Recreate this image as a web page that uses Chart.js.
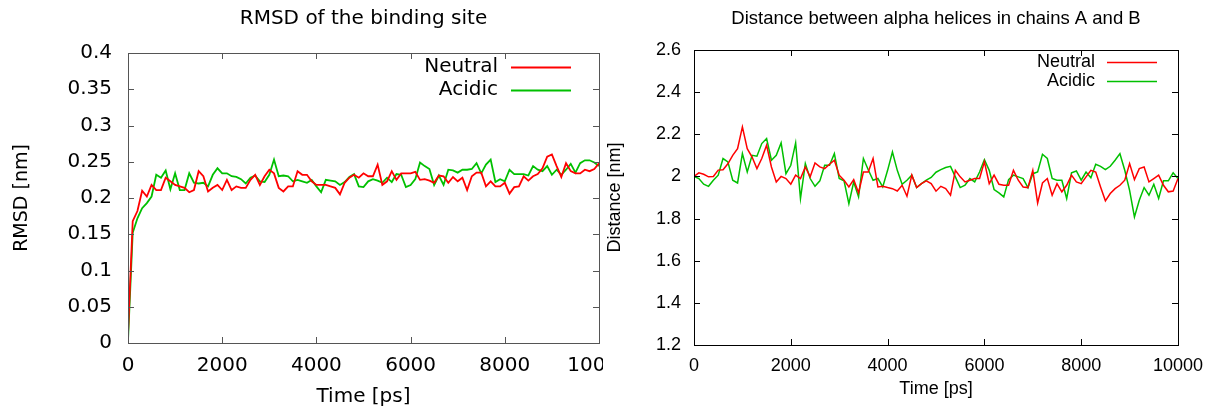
<!DOCTYPE html>
<html>
<head>
<meta charset="utf-8">
<script src="https://cdn.jsdelivr.net/npm/chart.js@4.4.1/dist/chart.umd.min.js"></script>
<style>
  body { margin: 0; width: 1212px; height: 410px; overflow: hidden; position: relative; background: #fff; }
  canvas { display: block; }
  #leftWrap { position: absolute; left: 0; top: 0; width: 603px; height: 410px; overflow: hidden; }
  #distChart { position: absolute; left: 596px; top: 0; }
</style>
</head>
<body>
<div id="leftWrap"><canvas id="rmsdChart" width="727" height="410"></canvas></div>
<canvas id="distChart" width="680" height="410"></canvas>
<script>
// time axis, ps
const times = [0, 100, 200, 300, 400, 500, 600, 700, 800, 900,
  1000, 1100, 1200, 1300, 1400, 1500, 1600, 1700, 1800, 1900,
  2000, 2100, 2200, 2300, 2400, 2500, 2600, 2700, 2800, 2900,
  3000, 3100, 3200, 3300, 3400, 3500, 3600, 3700, 3800, 3900,
  4000, 4100, 4200, 4300, 4400, 4500, 4600, 4700, 4800, 4900,
  5000, 5100, 5200, 5300, 5400, 5500, 5600, 5700, 5800, 5900,
  6000, 6100, 6200, 6300, 6400, 6500, 6600, 6700, 6800, 6900,
  7000, 7100, 7200, 7300, 7400, 7500, 7600, 7700, 7800, 7900,
  8000, 8100, 8200, 8300, 8400, 8500, 8600, 8700, 8800, 8900,
  9000, 9100, 9200, 9300, 9400, 9500, 9600, 9700, 9800, 9900, 10000];

// RMSD of the binding site [nm]
const rmsdNeutral = [0.012, 0.168, 0.182, 0.210, 0.202, 0.218, 0.211, 0.211, 0.228, 0.223,
  0.218, 0.216, 0.214, 0.208, 0.211, 0.237, 0.230, 0.209, 0.214, 0.218,
  0.211, 0.225, 0.211, 0.216, 0.214, 0.214, 0.225, 0.232, 0.218, 0.230,
  0.239, 0.234, 0.214, 0.209, 0.216, 0.216, 0.237, 0.232, 0.232, 0.223,
  0.218, 0.218, 0.218, 0.216, 0.214, 0.205, 0.221, 0.228, 0.232, 0.228,
  0.234, 0.230, 0.230, 0.246, 0.218, 0.223, 0.237, 0.225, 0.234, 0.234,
  0.234, 0.236, 0.225, 0.226, 0.224, 0.221, 0.231, 0.230, 0.221, 0.229,
  0.223, 0.228, 0.211, 0.230, 0.235, 0.235, 0.216, 0.223, 0.216, 0.216,
  0.221, 0.206, 0.215, 0.216, 0.230, 0.224, 0.230, 0.233, 0.241, 0.257,
  0.260, 0.244, 0.229, 0.248, 0.237, 0.234, 0.234, 0.239, 0.237, 0.240, 0.248];
const rmsdAcidic = [0.003, 0.152, 0.172, 0.186, 0.193, 0.202, 0.232, 0.228, 0.238, 0.212,
  0.234, 0.211, 0.211, 0.234, 0.221, 0.220, 0.221, 0.216, 0.232, 0.241,
  0.234, 0.234, 0.230, 0.229, 0.226, 0.220, 0.228, 0.231, 0.223, 0.222,
  0.232, 0.253, 0.230, 0.231, 0.230, 0.223, 0.225, 0.223, 0.221, 0.225,
  0.216, 0.208, 0.225, 0.224, 0.223, 0.218, 0.222, 0.229, 0.233, 0.216,
  0.215, 0.223, 0.226, 0.224, 0.221, 0.228, 0.222, 0.233, 0.232, 0.215,
  0.218, 0.226, 0.249, 0.244, 0.240, 0.218, 0.231, 0.218, 0.239, 0.238,
  0.235, 0.239, 0.239, 0.240, 0.248, 0.234, 0.246, 0.253, 0.222, 0.226,
  0.223, 0.239, 0.233, 0.233, 0.233, 0.231, 0.244, 0.239, 0.237, 0.244,
  0.232, 0.239, 0.232, 0.239, 0.247, 0.235, 0.248, 0.252, 0.252, 0.249, 0.244];

// distance between alpha helices [nm]
const distNeutral = [2.000, 2.017, 2.010, 1.998, 2.000, 2.030, 2.032, 2.060, 2.100, 2.132,
  2.235, 2.132, 2.092, 2.037, 2.085, 2.148, 2.045, 1.974, 2.000, 1.990,
  1.963, 2.006, 1.990, 2.045, 1.998, 2.064, 2.045, 2.037, 2.058, 2.077,
  2.006, 1.982, 1.950, 1.985, 1.922, 2.021, 2.021, 2.085, 1.950, 1.953,
  1.947, 1.942, 1.931, 1.958, 1.906, 2.006, 1.947, 1.966, 1.979, 1.966,
  1.930, 1.953, 1.942, 1.911, 2.029, 1.998, 1.974, 1.982, 1.990, 1.990,
  2.069, 1.966, 2.006, 1.963, 1.958, 1.958, 2.029, 1.982, 1.950, 1.947,
  2.029, 1.874, 1.969, 1.990, 1.911, 1.966, 1.927, 1.958, 2.006, 1.974,
  1.966, 1.998, 2.029, 2.021, 1.950, 1.884, 1.919, 1.942, 1.958, 1.982,
  2.061, 1.985, 2.037, 2.045, 1.974, 1.990, 2.006, 1.958, 1.927, 1.931, 1.990];
const distAcidic = [2.000, 1.990, 1.963, 1.953, 1.982, 2.006, 2.085, 2.069, 1.982, 1.969,
  2.108, 2.021, 2.100, 2.096, 2.156, 2.180, 2.077, 2.100, 2.159, 2.013,
  2.053, 2.159, 1.895, 2.061, 1.990, 1.953, 1.979, 2.053, 2.053, 2.108,
  1.990, 1.979, 1.871, 1.974, 1.903, 2.085, 2.032, 1.982, 1.990, 1.950,
  2.029, 2.116, 2.029, 1.963, 1.982, 2.006, 1.947, 1.966, 1.982, 1.995,
  2.020, 2.032, 2.042, 2.048, 1.998, 1.947, 1.958, 1.990, 1.974, 2.021,
  2.080, 2.029, 1.938, 1.922, 1.903, 1.985, 2.006, 1.998, 1.990, 1.947,
  2.013, 2.021, 2.105, 2.085, 1.990, 1.982, 1.982, 1.895, 2.017, 2.026,
  1.982, 2.021, 1.994, 2.058, 2.048, 2.032, 2.048, 2.077, 2.108, 2.029,
  1.934, 1.808, 1.887, 1.947, 1.911, 1.963, 1.895, 1.979, 1.979, 2.017, 1.990];

// tick labels
const timeTicks = [0, 2000, 4000, 6000, 8000, 10000];
const timeTickLabels = ['0', '2000', '4000', '6000', '8000', '10000'];
const rmsdTicks = [0, 0.05, 0.1, 0.15, 0.2, 0.25, 0.3, 0.35, 0.4];
const rmsdTickLabels = ['0', '0.05', '0.1', '0.15', '0.2', '0.25', '0.3', '0.35', '0.4'];
const distTicks = [1.2, 1.4, 1.6, 1.8, 2.0, 2.2, 2.4, 2.6];
const distTickLabels = ['1.2', '1.4', '1.6', '1.8', '2', '2.2', '2.4', '2.6'];

const toPoints = vals => vals.map((v, i) => ({ x: times[i], y: v }));

// gnuplot-like frame with inward ticks on all four sides
const framePlugin = {
  id: 'frame',
  afterDatasetsDraw(chart, args, opts) {
    const { ctx, chartArea: a, scales: { x, y } } = chart;
    const len = opts.tickLen;
    ctx.save();
    ctx.strokeStyle = opts.color;
    ctx.lineWidth = 1;
    ctx.beginPath();
    opts.xTicks.forEach(v => {
      const px = Math.round(x.getPixelForValue(v)) + 0.5;
      ctx.moveTo(px, a.bottom); ctx.lineTo(px, a.bottom - len);
      ctx.moveTo(px, a.top); ctx.lineTo(px, a.top + len);
    });
    opts.yTicks.forEach(v => {
      const py = Math.round(y.getPixelForValue(v)) + 0.5;
      ctx.moveTo(a.left, py); ctx.lineTo(a.left + len, py);
      ctx.moveTo(a.right, py); ctx.lineTo(a.right - len, py);
    });
    ctx.stroke();
    ctx.strokeRect(Math.round(a.left) + 0.5, Math.round(a.top) + 0.5,
      Math.round(a.right - a.left), Math.round(a.bottom - a.top));
    ctx.restore();
  }
};

// legend inside the plot, text right aligned with a line sample after it
const keyPlugin = {
  id: 'key',
  afterDraw(chart, args, opts) {
    const ctx = chart.ctx;
    ctx.save();
    ctx.font = opts.font;
    ctx.fillStyle = '#000';
    ctx.textAlign = 'right';
    ctx.textBaseline = 'middle';
    chart.data.datasets.forEach((ds, i) => {
      const yy = opts.rows[i];
      ctx.fillText(ds.label, opts.textRight, yy);
      ctx.strokeStyle = ds.borderColor;
      ctx.lineWidth = ds.borderWidth;
      ctx.beginPath();
      ctx.moveTo(opts.lineFrom, yy + 0.5);
      ctx.lineTo(opts.lineTo, yy + 0.5);
      ctx.stroke();
    });
    ctx.restore();
  }
};

function makeChart(id, cfg) {
  const ctx = document.getElementById(id).getContext('2d');
  return new Chart(ctx, {
    type: 'line',
    data: {
      datasets: [
        { label: 'Neutral', data: toPoints(cfg.neutral), borderColor: '#ff0000', borderWidth: cfg.lw, pointRadius: 0, tension: 0 },
        { label: 'Acidic', data: toPoints(cfg.acidic), borderColor: '#00c000', borderWidth: cfg.lw, pointRadius: 0, tension: 0 }
      ]
    },
    options: {
      responsive: false,
      animation: false,
      devicePixelRatio: 1,
      layout: { padding: { left: 0, right: cfg.padRight, top: 0, bottom: 0 } },
      scales: {
        x: {
          type: 'linear', min: 0, max: 10000,
          afterBuildTicks: s => { s.ticks = timeTicks.map(v => ({ value: v })); },
          afterFit: s => { s.height = cfg.xHeight; },
          grid: { display: false, drawTicks: false },
          border: { display: false },
          ticks: { color: '#000', font: cfg.tickFont, padding: cfg.xTickPad, maxRotation: 0, autoSkip: false,
            callback: (v, i) => timeTickLabels[i] },
          title: { display: true, text: 'Time [ps]', color: '#000', font: cfg.tickFont, padding: { top: 0, bottom: cfg.xTitlePad } }
        },
        // top axis only carries the plot title, centred over the plot area
        xTop: {
          type: 'linear', axis: 'x', position: 'top', min: 0, max: 10000,
          afterFit: s => { s.height = cfg.topHeight; },
          grid: { display: false, drawTicks: false },
          border: { display: false },
          ticks: { display: false },
          title: { display: true, text: cfg.title, color: '#000', font: cfg.titleFont, padding: { top: cfg.titleTop, bottom: 0 } }
        },
        y: {
          type: 'linear', min: cfg.yTicks[0], max: cfg.yTicks[cfg.yTicks.length - 1],
          afterBuildTicks: s => { s.ticks = cfg.yTicks.map(v => ({ value: v })); },
          afterFit: s => { s.width = cfg.yWidth; },
          grid: { display: false, drawTicks: false },
          border: { display: false },
          ticks: { color: '#000', font: cfg.tickFont, padding: cfg.yTickPad, autoSkip: false,
            callback: (v, i) => cfg.yLabels[i] },
          title: { display: true, text: cfg.yTitle, color: '#000', font: cfg.yTitleFont, padding: { top: cfg.yTitlePad, bottom: 0 } }
        }
      },
      plugins: {
        legend: { display: false },
        tooltip: { enabled: false },
        title: { display: false },
        frame: { color: cfg.frameColor, tickLen: 6, xTicks: timeTicks, yTicks: cfg.yTicks },
        key: cfg.key
      }
    },
    plugins: [framePlugin, keyPlugin]
  });
}

makeChart('rmsdChart', {
  neutral: rmsdNeutral, acidic: rmsdAcidic, lw: 1.8,
  yTicks: rmsdTicks, yLabels: rmsdTickLabels,
  title: 'RMSD of the binding site', yTitle: 'RMSD [nm]',
  tickFont: { family: 'DejaVu Sans', size: 20 },
  titleFont: { family: 'DejaVu Sans', size: 20, weight: 'normal' },
  yTitleFont: { family: 'DejaVu Sans', size: 19 },
  topHeight: 53, titleTop: 7,
  padRight: 128, xHeight: 67, yWidth: 128,
  xTickPad: 11, xTitlePad: 1, yTickPad: 16, yTitlePad: 11,
  frameColor: '#555',
  key: { font: '20px "DejaVu Sans"', textRight: 498, lineFrom: 511, lineTo: 571, rows: [67, 90] }
});

makeChart('distChart', {
  neutral: distNeutral, acidic: distAcidic, lw: 1.5,
  yTicks: distTicks, yLabels: distTickLabels,
  title: 'Distance between alpha helices in chains A and B', yTitle: 'Distance [nm]',
  tickFont: { family: 'Liberation Sans', size: 18 },
  titleFont: { family: 'Liberation Sans', size: 18.5, weight: 'normal' },
  yTitleFont: { family: 'Liberation Sans', size: 18 },
  topHeight: 50, titleTop: 8,
  padRight: 98, xHeight: 65, yWidth: 98,
  xTickPad: 10, xTitlePad: 10, yTickPad: 13, yTitlePad: 8,
  frameColor: '#000',
  key: { font: '18px "Liberation Sans"', textRight: 499, lineFrom: 511, lineTo: 561, rows: [62, 81] }
});
</script>
</body>
</html>
